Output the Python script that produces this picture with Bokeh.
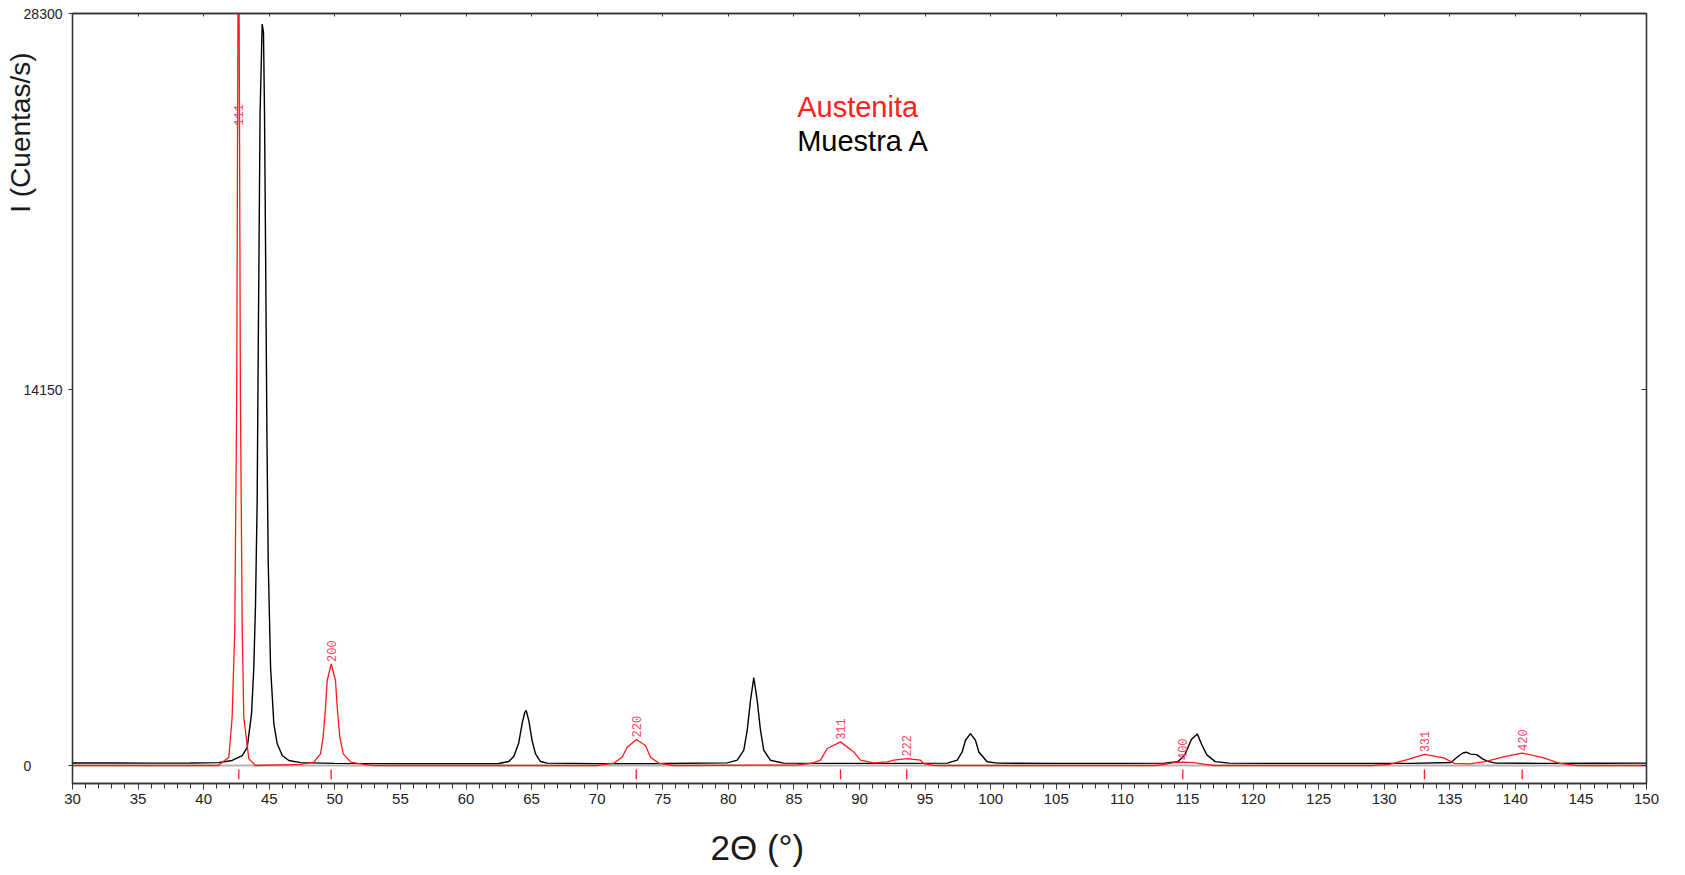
import math
from bokeh.plotting import figure
from bokeh.models import Range1d, LinearAxis, FixedTicker, Label, Span, ColumnDataSource, Title
from bokeh.embed import file_html
from bokeh.resources import INLINE
from bokeh.core.properties import value

# ---------------- data ----------------
muestra_x = [30, 33, 36, 39, 41.13, 42.17, 42.94, 43.32, 43.65, 43.82, 43.95, 44.08, 44.16, 44.30,
             44.46, 44.56, 44.64, 44.72, 44.82, 44.92, 45.10, 45.35, 45.60, 45.99, 46.5, 47.38,
             50, 55, 60, 62.5, 63.26, 63.64, 64.02, 64.28, 64.48, 64.59, 64.79, 65.04, 65.30, 65.68,
             66.18, 70, 75, 79.92, 80.68, 81.18, 81.44, 81.69, 81.94, 82.20, 82.45, 82.70, 83.20,
             84.2, 88, 92, 96.69, 97.45, 97.83, 98.08, 98.46, 98.84, 99.10, 99.73, 100.5, 105, 110,
             113.23, 114.27, 114.80, 115.30, 115.75, 116.09, 116.48, 117.12, 118.17, 122, 127, 132,
             135.08, 135.6, 136.0, 136.25, 136.6, 137.05, 137.5, 137.9, 138.5, 142, 146, 150]
muestra_y = [95, 100, 90, 95, 110, 190, 375, 680, 1950, 3650, 6000, 10000, 15600, 24500,
             27900, 27600, 24500, 19400, 12600, 7700, 3700, 1580, 830, 375, 190, 110,
             80, 70, 70, 75, 150, 340, 850, 1580, 2000, 2070, 1690, 940, 440, 150,
             90, 70, 75, 100, 200, 575, 1330, 2450, 3310, 2450, 1330, 575, 200,
             90, 80, 80, 90, 200, 510, 950, 1200, 950, 510, 140, 90, 80, 80,
             90, 145, 400, 980, 1190, 790, 400, 145, 90, 80, 80, 80,
             115, 330, 470, 500, 430, 410, 250, 155, 90, 80, 85, 90]

austenita_x = [30, 41.1, 41.92, 42.17, 42.37, 42.52, 42.60, 42.66, 42.72, 42.80, 42.94, 43.06, 43.44,
               43.95, 47.38, 48.4, 48.91, 49.11, 49.29, 49.42, 49.72, 50.05, 50.18, 50.38, 50.64,
               51.2, 52.2, 53, 70.0, 71.27, 71.9, 72.29, 72.99, 73.68, 74.07, 74.7, 75.84, 85.25,
               86.27, 87.03, 87.54, 88.55, 89.56, 90.07, 91.09, 92.1, 92.61, 93.63, 94.65, 94.9,
               95.67, 112.5, 113.3, 114.0, 114.65, 115.5, 116.35, 117.0, 129.1, 130.4, 131.7,
               133.07, 134.55, 135.34, 136.5, 137.7, 139.26, 140.52, 142.1, 143.4, 144.7, 150]
austenita_y = [0, 0, 310, 1815, 5070, 14000, 26000, 34000, 26000, 14000, 5070, 1815, 260,
               0, 40, 125, 440, 1065, 2190, 3200, 3820, 3200, 2190, 1065, 440,
               125, 40, 0, 0, 90, 310, 690, 980, 750, 310, 90, 0, 20,
               75, 200, 640, 890, 510, 200, 100, 140, 200, 260, 200, 75,
               0, 0, 40, 110, 130, 110, 40, 0, 0, 40, 210,
               420, 290, 80, 60, 145, 340, 470, 300, 80, 0, 0]

hkl_pos = [42.68, 49.72, 72.98, 88.55, 93.60, 114.65, 133.07, 140.52]
hkl_labels = ["111", "200", "220", "311", "222", "400", "331", "420"]
hkl_label_y = [24000, 3820, 980, 890, 260, 130, 420, 470]
stick_top = -150
stick_bottom = -515

x_ticks = list(range(30, 151, 5))
x_minor = list(range(30, 151, 1))
y_ticks = [0, 14150, 28300]

# ---------------- figure ----------------
p = figure(width=1685, height=875, output_backend="svg", toolbar_location=None,
           x_range=Range1d(30, 150), y_range=Range1d(-677, 28300),
           min_border_left=72, min_border_right=39, min_border_top=13, min_border_bottom=92,
           background_fill_color="white", border_fill_color="white")
p.xgrid.visible = False
p.ygrid.visible = False
p.outline_line_color = "#333333"
p.outline_line_width = 1.3

AXC = "#333333"
xa = p.xaxis[0]
xa.ticker = FixedTicker(ticks=x_ticks, minor_ticks=x_minor)
xa.axis_line_color = AXC
xa.axis_line_width = 1.3
xa.major_tick_line_color = AXC
xa.minor_tick_line_color = AXC
xa.major_tick_out = 6
xa.major_tick_in = 0
xa.minor_tick_out = 5
xa.minor_tick_in = 0
xa.major_label_standoff = 4
xa.major_label_text_font = "Liberation Sans"
xa.major_label_text_font_size = "15px"
xa.major_label_text_color = "#222222"
# x axis title: sits left of the centre in the reference (trailing no-break spaces shift it)
xa.axis_label = "2\u0398 (\u00b0)" + "\u00a0" * 21
xa.axis_label_text_font = "Liberation Sans"
xa.axis_label_text_font_size = "35px"
xa.axis_label_text_font_style = "normal"
xa.axis_label_text_color = "#1a1a1a"
xa.axis_label_standoff = 21

ya = p.yaxis[0]
ya.ticker = FixedTicker(ticks=y_ticks, minor_ticks=[])
ya.axis_line_color = AXC
ya.axis_line_width = 1.3
ya.major_tick_line_color = AXC
ya.major_tick_out = 4
ya.major_tick_in = 0
ya.major_label_standoff = 6
ya.major_label_text_font = "Liberation Sans"
ya.major_label_text_font_size = "14px"
ya.major_label_text_color = "#222222"
ya.major_label_overrides = {0: "0\u2007\u2007\u2007\u2007"}

top = LinearAxis(ticker=FixedTicker(ticks=x_ticks, minor_ticks=[]),
                 major_tick_in=3, major_tick_out=0, minor_tick_in=0, minor_tick_out=0,
                 major_label_overrides={t: "" for t in x_ticks}, major_label_standoff=0,
                 axis_line_color=AXC, major_tick_line_color=AXC, axis_line_width=1.3)
p.add_layout(top, "above")
right = LinearAxis(ticker=FixedTicker(ticks=y_ticks, minor_ticks=[]),
                   major_tick_in=5, major_tick_out=0, minor_tick_in=0, minor_tick_out=0,
                   major_label_overrides={t: "" for t in y_ticks}, major_label_standoff=0,
                   axis_line_color=AXC, major_tick_line_color=AXC, axis_line_width=1.3)
p.add_layout(right, "right")

# y axis title near the top of the axis, as in the reference
yt = Title(text="I (Cuentas/s)", align="right", offset=39, vertical_align="bottom",
           text_font="Liberation Sans", text_font_size="28px", text_font_style="normal",
           text_color="#1a1a1a")
try:
    yt.standoff = -30
except Exception:
    pass
p.add_layout(yt, "left")

p.add_layout(Span(location=0, dimension="width", line_color="#b4b4b4", line_width=2, level="underlay"))

p.line(muestra_x, muestra_y, line_color="black", line_width=1.4)
p.line(austenita_x, austenita_y, line_color="#ff1a1a", line_width=1.3)

stick_src = ColumnDataSource(dict(x=hkl_pos, y0=[stick_top] * len(hkl_pos), y1=[stick_bottom] * len(hkl_pos)))
p.segment(x0="x", y0="y0", x1="x", y1="y1", source=stick_src, line_color="#ff1a1a", line_width=1.3)

lab_src = ColumnDataSource(dict(x=hkl_pos, y=hkl_label_y, t=hkl_labels))
p.text(x="x", y="y", text="t", source=lab_src, angle=math.pi / 2, text_align="left",
       text_baseline="middle", text_font=value("Liberation Mono"), text_font_size="12px",
       text_color="#ff4060", y_offset=-2)

p.add_layout(Label(x=85.25, y=24800, text="Austenita", text_color="#ff2020",
                   text_font="Liberation Sans", text_font_size="29px", text_baseline="alphabetic"))
p.add_layout(Label(x=85.25, y=23510, text="Muestra A", text_color="black",
                   text_font="Liberation Sans", text_font_size="29px", text_baseline="alphabetic"))

open("out.html", "w").write(file_html(p, INLINE))
